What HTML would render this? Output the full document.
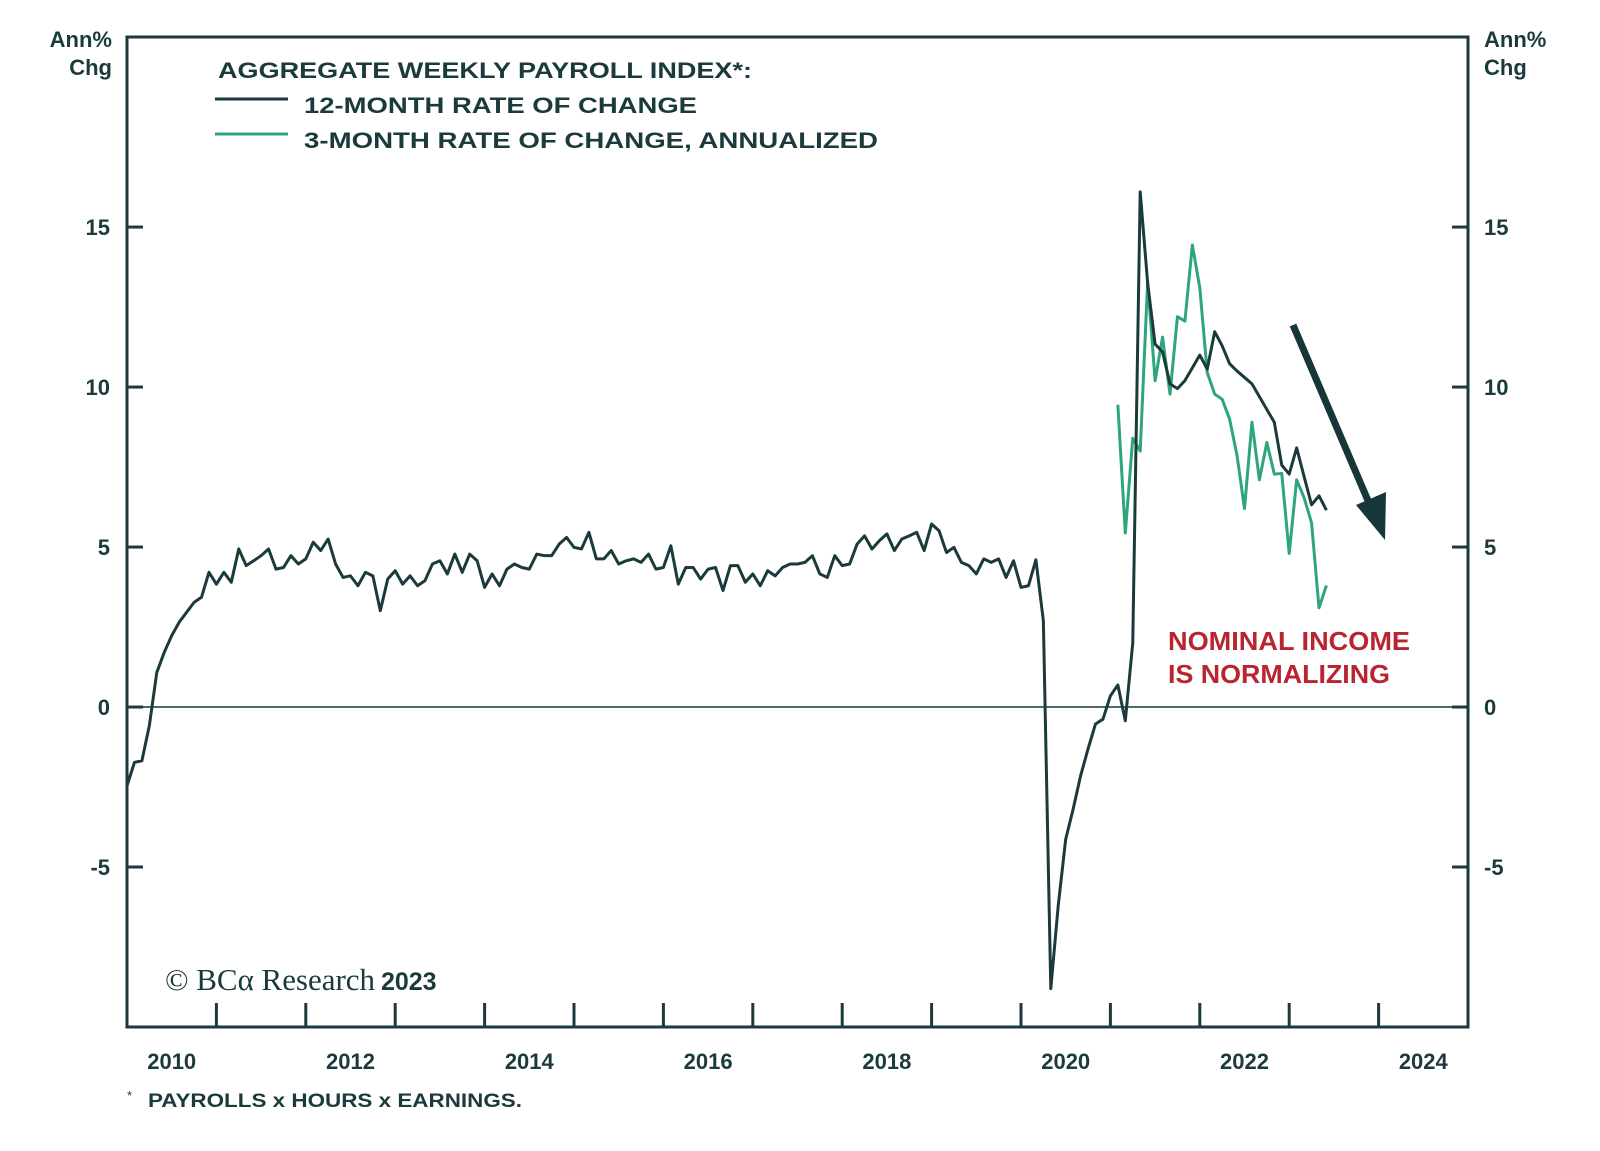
<!DOCTYPE html>
<html>
<head>
<meta charset="utf-8">
<style>
html,body{margin:0;padding:0;background:#fff;}
svg{display:block;}
text{font-family:"Liberation Sans","DejaVu Sans",sans-serif;}
</style>
</head>
<body>
<svg id="chart" width="1600" height="1151" viewBox="0 0 1600 1151" xmlns="http://www.w3.org/2000/svg">
  <rect x="0" y="0" width="1600" height="1151" fill="#ffffff"/>
  <g id="marks"></g>
  <rect x="127" y="37" width="1341" height="990" fill="none" stroke="#1b3a3c" stroke-width="3"/>
  <g id="axes"></g>

  <text x="112" y="47" text-anchor="end" font-size="22" font-weight="bold" fill="#1b3a3c">Ann%</text>
  <text x="112" y="75" text-anchor="end" font-size="22" font-weight="bold" fill="#1b3a3c">Chg</text>
  <text x="1484" y="47" font-size="22" font-weight="bold" fill="#1b3a3c">Ann%</text>
  <text x="1484" y="75" font-size="22" font-weight="bold" fill="#1b3a3c">Chg</text>

  <g>
    <text x="218" y="78" font-size="22" font-weight="bold" fill="#1b3a3c" textLength="534" lengthAdjust="spacingAndGlyphs">AGGREGATE WEEKLY PAYROLL INDEX*:</text>
    <line x1="215" y1="99" x2="288" y2="99" stroke="#1b3a3c" stroke-width="3"/>
    <text x="304" y="113" font-size="22" font-weight="bold" fill="#1b3a3c" textLength="393" lengthAdjust="spacingAndGlyphs">12-MONTH RATE OF CHANGE</text>
    <line x1="215" y1="134" x2="288" y2="134" stroke="#2ea57c" stroke-width="3"/>
    <text x="304" y="148" font-size="22" font-weight="bold" fill="#1b3a3c" textLength="574" lengthAdjust="spacingAndGlyphs">3-MONTH RATE OF CHANGE, ANNUALIZED</text>
  </g>

  <text x="1168" y="650" font-size="26" font-weight="bold" fill="#b8242f" textLength="242" lengthAdjust="spacingAndGlyphs">NOMINAL INCOME</text>
  <text x="1168" y="683" font-size="26" font-weight="bold" fill="#b8242f" textLength="222" lengthAdjust="spacingAndGlyphs">IS NORMALIZING</text>

  <g>
    <line x1="1293" y1="325" x2="1372" y2="510" stroke="#16363a" stroke-width="7"/>
    <polygon points="1385,540 1356,505 1386,492" fill="#16363a"/>
  </g>

  <text x="165" y="990" font-size="31" fill="#1b3a3c"><tspan font-family="Liberation Serif, serif" textLength="210">© BCα Research</tspan><tspan font-size="25" font-weight="bold" dx="6">2023</tspan></text>

  <text x="127" y="1100" font-size="13" fill="#1b3a3c">*</text>
  <text x="148" y="1107" font-size="19" font-weight="bold" fill="#1b3a3c" textLength="374" lengthAdjust="spacingAndGlyphs">PAYROLLS x HOURS x EARNINGS.</text>
</svg>
<script>
// ---- data ----
const startYear = 2010;
const startMonth = 0;
const yTicks = [15, 10, 5, 0, -5];
const yTickLabels = ["15", "10", "5", "0", "-5"];
const xTickYears = [2011,2012,2013,2014,2015,2016,2017,2018,2019,2020,2021,2022,2023,2024];
const xLabelYears = [2010, 2012, 2014, 2016, 2018, 2020, 2022, 2024];
const series12m = [
-2.46,-1.73,-1.68,-0.58,1.08,1.71,2.23,2.65,2.96,3.27,
3.43,4.21,3.84,4.21,3.9,4.94,4.42,4.57,4.73,4.94,
4.31,4.36,4.73,4.47,4.63,5.15,4.89,5.25,4.47,4.05,
4.1,3.79,4.21,4.1,3.01,4.0,4.26,3.84,4.1,3.79,
3.95,4.47,4.57,4.16,4.78,4.21,4.78,4.57,3.74,4.16,
3.79,4.31,4.47,4.36,4.31,4.78,4.73,4.73,5.09,5.3,
4.99,4.94,5.46,4.63,4.63,4.89,4.47,4.57,4.63,4.52,
4.78,4.31,4.36,5.04,3.84,4.36,4.36,4.0,4.31,4.36,
3.64,4.42,4.42,3.9,4.16,3.79,4.26,4.1,4.36,4.47,
4.47,4.52,4.73,4.16,4.05,4.73,4.42,4.47,5.09,5.35,
4.94,5.2,5.41,4.89,5.25,5.35,5.46,4.89,5.72,5.51,
4.83,4.99,4.52,4.42,4.16,4.63,4.52,4.63,4.05,4.57,
3.74,3.79,4.6,2.7,-8.8,-6.2,-4.13,-3.19,-2.15,-1.31,
-0.53,-0.38,0.35,0.69,-0.43,2.0,16.1,13.25,11.34,11.1,
10.1,9.95,10.2,10.6,11.0,10.56,11.73,11.29,10.73,10.5,
10.3,10.1,9.7,9.3,8.9,7.56,7.28,8.1,7.2,6.32,
6.6,6.15];
const series3mStart = 133;
const series3m = [9.45,5.44,8.4,8.0,13.3,10.2,11.56,9.78,12.2,12.06,
14.44,13.1,10.45,9.78,9.62,9.0,7.86,6.2,8.9,7.1,
8.27,7.28,7.3,4.8,7.1,6.54,5.76,3.1,3.8];

// ---- scales ----
const X0 = 127, X1 = 1468, XMIN = 2010, XMAX = 2025;
const Y0 = 1027, Y1 = 37, VMIN = -10, VMAX = 20.94;
function xScale(t){ return X0 + (t - XMIN) / (XMAX - XMIN) * (X1 - X0); }
function yScale(v){ return Y0 - (v - VMIN) / (VMAX - VMIN) * (Y0 - Y1); }
function monthT(i){ return startYear + (startMonth + i) / 12; }

const NS = "http://www.w3.org/2000/svg";
const marks = document.getElementById("marks");
const axes = document.getElementById("axes");

// zero line
const zl = document.createElementNS(NS, "line");
zl.setAttribute("x1", X0); zl.setAttribute("x2", X1);
zl.setAttribute("y1", yScale(0)); zl.setAttribute("y2", yScale(0));
zl.setAttribute("stroke", "#4d6a6b"); zl.setAttribute("stroke-width", "2");


marks.appendChild(zl);

// series 12m
let d = "";
series12m.forEach((v, i) => { d += (i ? "L" : "M") + xScale(monthT(i)).toFixed(2) + "," + yScale(v).toFixed(2); });
const p12 = document.createElementNS(NS, "path");
p12.setAttribute("d", d); p12.setAttribute("fill", "none");
p12.setAttribute("stroke", "#1b3a3c"); p12.setAttribute("stroke-width", "3");
p12.setAttribute("stroke-linejoin", "round");



// series 3m
let d3 = "";
series3m.forEach((v, i) => { d3 += (i ? "L" : "M") + xScale(monthT(series3mStart + i)).toFixed(2) + "," + yScale(v).toFixed(2); });
const p3 = document.createElementNS(NS, "path");
p3.setAttribute("d", d3); p3.setAttribute("fill", "none");
p3.setAttribute("stroke", "#2ea57c"); p3.setAttribute("stroke-width", "3");
p3.setAttribute("stroke-linejoin", "round");


marks.appendChild(p3);
marks.appendChild(p12);

// y ticks both sides
yTicks.forEach((v, i) => {
  const y = yScale(v);
  const tl = document.createElementNS(NS, "line");
  tl.setAttribute("x1", X0); tl.setAttribute("x2", X0 + 16); tl.setAttribute("y1", y); tl.setAttribute("y2", y);
  tl.setAttribute("stroke", "#1b3a3c"); tl.setAttribute("stroke-width", "3");
  
  
  axes.appendChild(tl);
  const tr = document.createElementNS(NS, "line");
  tr.setAttribute("x1", X1 - 16); tr.setAttribute("x2", X1); tr.setAttribute("y1", y); tr.setAttribute("y2", y);
  tr.setAttribute("stroke", "#1b3a3c"); tr.setAttribute("stroke-width", "3");
  
  
  axes.appendChild(tr);
  const ll = document.createElementNS(NS, "text");
  ll.setAttribute("x", 110); ll.setAttribute("y", y + 8); ll.setAttribute("text-anchor", "end");
  ll.setAttribute("font-size", "22"); ll.setAttribute("font-weight", "bold"); ll.setAttribute("fill", "#1b3a3c");
  ll.textContent = yTickLabels[i];
  
  
  axes.appendChild(ll);
  const lr = document.createElementNS(NS, "text");
  lr.setAttribute("x", 1484); lr.setAttribute("y", y + 8);
  lr.setAttribute("font-size", "22"); lr.setAttribute("font-weight", "bold"); lr.setAttribute("fill", "#1b3a3c");
  lr.textContent = yTickLabels[i];
  
  
  axes.appendChild(lr);
});

// x ticks
xTickYears.forEach(yr => {
  const x = xScale(yr);
  const t = document.createElementNS(NS, "line");
  t.setAttribute("x1", x); t.setAttribute("x2", x); t.setAttribute("y1", Y0); t.setAttribute("y2", Y0 - 24);
  t.setAttribute("stroke", "#1b3a3c"); t.setAttribute("stroke-width", "3");
  
  
  axes.appendChild(t);
});
xLabelYears.forEach(yr => {
  const lb = document.createElementNS(NS, "text");
  lb.setAttribute("x", xScale(yr + 0.5)); lb.setAttribute("y", 1069);
  lb.setAttribute("text-anchor", "middle");
  lb.setAttribute("font-size", "22"); lb.setAttribute("font-weight", "bold"); lb.setAttribute("fill", "#1b3a3c");
  lb.textContent = String(yr);
  
  
  axes.appendChild(lb);
});
</script>
</body>
</html>
